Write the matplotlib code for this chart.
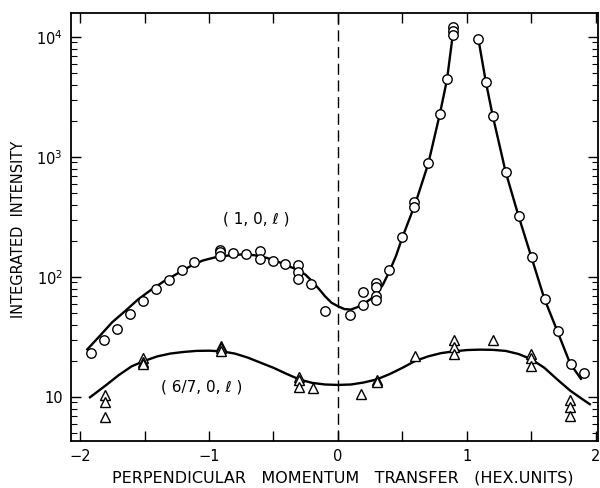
import numpy as np
import matplotlib
matplotlib.use("Agg")
import matplotlib.pyplot as plt
from matplotlib.ticker import FixedLocator, LogLocator, NullFormatter, FuncFormatter

# ---- data: (1,0,l) rod, circles ----
circ_x = [-1.915, -1.816, -1.713, -1.61, -1.514, -1.411, -1.308, -1.207, -1.114,
          -0.915, -0.915, -0.915, -0.811, -0.713, -0.605, -0.605, -0.501, -0.411,
          -0.308, -0.308, -0.308, -0.212, -0.10, 0.093, 0.196, 0.196,
          0.295, 0.295, 0.295, 0.295, 0.395, 0.494, 0.592, 0.592,
          0.70, 0.793, 0.845, 0.889, 0.889, 0.889,
          1.088, 1.147, 1.199, 1.302, 1.403, 1.504, 1.607, 1.705, 1.806, 1.905]
circ_y = [23.3, 29.7, 36.9, 49, 62.7, 78.9, 94.4, 113.7, 133,
          168, 160, 150, 157, 155, 166, 140, 136, 128,
          126, 111, 97, 87, 52, 48.5, 58, 75,
          88.6, 82, 70, 64, 114, 214, 419, 380,
          887, 2290, 4436, 12200, 11300, 10400,
          9680, 4190, 2196, 747, 322, 146, 66, 35.5, 18.9, 15.7]

# ---- data: (6/7,0,l) rod, triangles ----
tri_x = [-1.81, -1.81, -1.81, -1.509, -1.509, -1.509, -0.907, -0.907, -0.907,
         -0.302, -0.302, -0.302, -0.196, 0.178, 0.30, 0.30, 0.594,
         0.90, 0.90, 0.90, 1.204, 1.50, 1.50, 1.50, 1.80, 1.80, 1.80]
tri_y = [10.3, 9.1, 6.8, 21.3, 19.7, 18.7, 26.8, 25.5, 24.3,
         14.8, 13.9, 12.0, 11.8, 10.6, 13.9, 13.3, 22.0,
         29.9, 25.9, 22.7, 29.9, 22.8, 21.0, 18.1, 9.4, 8.3, 7.0]

# ---- fitted curves ----
fit1a_x = [-1.95, -1.85, -1.75, -1.65, -1.55, -1.45, -1.35, -1.25, -1.15, -1.05,
           -0.95, -0.85, -0.75, -0.65, -0.55, -0.45, -0.35, -0.3, -0.25, -0.2,
           -0.15, -0.1, -0.05, 0.0, 0.05, 0.1, 0.15, 0.2, 0.25, 0.3, 0.35, 0.4,
           0.45, 0.5, 0.6, 0.7, 0.79, 0.845, 0.888]
fit1a_y = [24.5, 32, 42, 52, 65, 78, 92, 106, 122, 137,
           146, 151, 154, 152, 144, 132, 119, 113, 104, 92,
           80, 69, 61, 57, 54, 53.5, 56, 60, 65, 72, 87, 112,
           150, 215, 410, 880, 2290, 4400, 10000]
fit1b_x = [1.088, 1.147, 1.2, 1.3, 1.4, 1.5, 1.6, 1.7, 1.8, 1.889]
fit1b_y = [9700, 4190, 2200, 750, 322, 146, 66, 35.5, 19, 13.9]

fit2_x = [-1.93, -1.8, -1.7, -1.6, -1.5, -1.4, -1.3, -1.2, -1.1, -1.0, -0.9, -0.8,
          -0.7, -0.6, -0.5, -0.4, -0.3, -0.2, -0.1, 0.0, 0.1, 0.2, 0.3, 0.4, 0.5,
          0.6, 0.7, 0.8, 0.9, 1.0, 1.1, 1.2, 1.3, 1.4, 1.5, 1.6, 1.7, 1.8, 1.9, 1.96]
fit2_y = [9.8, 12.5, 15.2, 18, 20, 21.8, 23, 23.7, 24.2, 24.3, 24, 23,
          21.3, 19.3, 17.5, 15.6, 14.0, 13.1, 12.7, 12.6, 12.7, 13.2, 14.0, 15.5, 17.5,
          20, 21.8, 23.2, 24, 24.6, 24.8, 24.7, 24.2, 22.8, 20.6, 17.5, 14, 11.3, 9.5, 8.6]

xticks = [-2, -1.5, -1, -0.5, 0, 0.5, 1, 1.5, 2]
label1 = "( 1, 0, ℓ )"
label2 = "( 6/7, 0, ℓ )"
xlabel = "PERPENDICULAR   MOMENTUM   TRANSFER   (HEX.UNITS)"
ylabel = "INTEGRATED  INTENSITY"

plt.rcParams['font.family'] = ['DejaVu Sans']
fig = plt.figure(figsize=(6.0, 4.88), dpi=100)
ax = fig.add_axes([71/600, 1 - 441/488, (598 - 71)/600, (441 - 13)/488])
ax.set_yscale('log')
ax.set_xlim(-2.07, 2.016)
ax.set_ylim(10**0.633, 10**4.2)

ax.axvline(0, color='black', lw=1.0, dashes=(8, 4))

ax.plot(fit1a_x, fit1a_y, color='black', lw=1.7, solid_capstyle='butt', zorder=2)
ax.plot(fit1b_x, fit1b_y, color='black', lw=1.7, solid_capstyle='butt', zorder=2)
ax.plot(fit2_x, fit2_y, color='black', lw=1.7, solid_capstyle='butt', zorder=2)

ax.plot(circ_x, circ_y, linestyle='none', marker='o', ms=6.8, mfc='white',
        mec='black', mew=1.0, zorder=3)
ax.plot(tri_x, tri_y, linestyle='none', marker='^', ms=7.0, mfc='white',
        mec='black', mew=1.0, zorder=3)

ax.text(-0.63, 10**(1 + (397 - 219)/120), label1, ha='center', va='center', fontsize=11)
ax.text(-1.06, 10**(1 + (397 - 387)/120), label2, ha='center', va='center', fontsize=11)

ax.xaxis.set_major_locator(FixedLocator(xticks))
ax.xaxis.set_major_formatter(FuncFormatter(
    lambda v, p: ("\u2212%d" % abs(v) if v < 0 else "%d" % v) if abs(v - round(v)) < 1e-6 else ""))
ax.yaxis.set_major_locator(LogLocator(base=10, numticks=10))
ax.yaxis.set_minor_locator(LogLocator(base=10, subs=np.arange(2, 10), numticks=20))
ax.yaxis.set_minor_formatter(NullFormatter())
ax.yaxis.set_major_formatter(FuncFormatter(
    lambda v, p: "10" if abs(v - 10) < 1e-6 else r"$\mathregular{10^{%d}}$" % round(np.log10(v))))

ax.tick_params(axis='both', which='major', direction='in', length=7, width=1.0,
               top=True, right=True, labelsize=10.5, pad=6)
ax.tick_params(axis='y', which='minor', direction='in', length=4, width=0.8, right=True)
for s in ax.spines.values():
    s.set_linewidth(1.3)

fig.text(343/600, 1 - 478/488, xlabel, ha='center', va='center', fontsize=11.5)
fig.text(19/600, 1 - 229/488, ylabel, ha='center', va='center', rotation=90, fontsize=10.5)

fig.savefig("out.png", dpi=100)
